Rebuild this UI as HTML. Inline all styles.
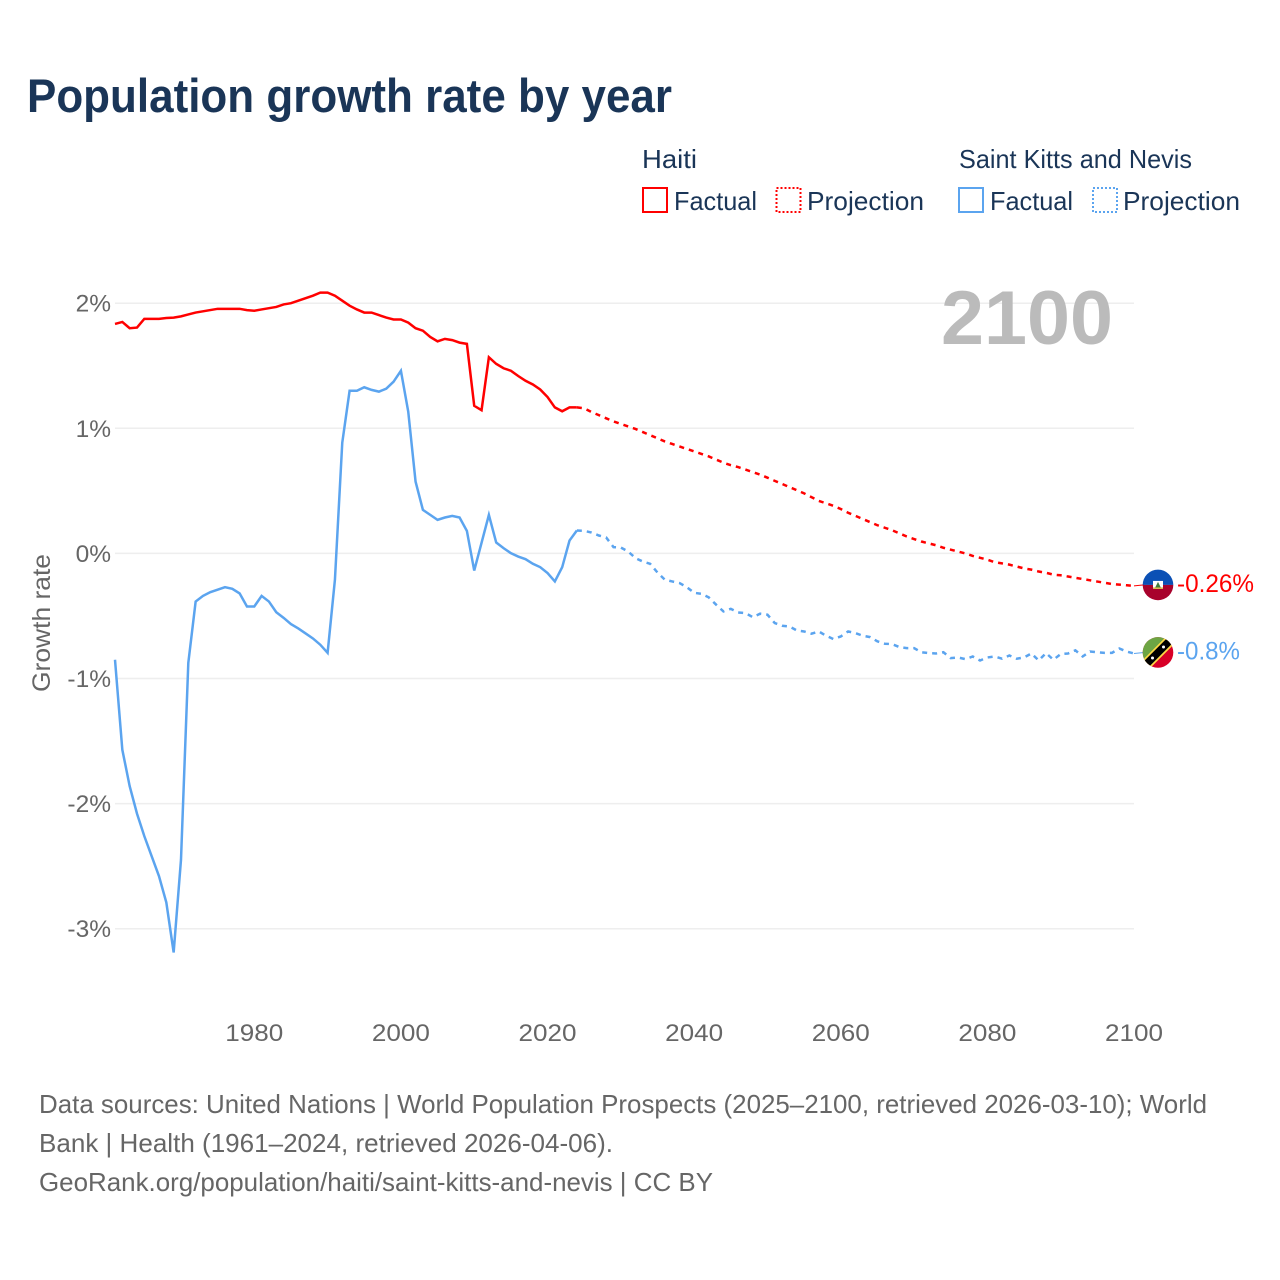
<!DOCTYPE html>
<html lang="en">
<head>
<meta charset="utf-8">
<title>Population growth rate by year</title>
<style>
  html, body { margin: 0; padding: 0; background: #fff; }
  svg { display: block; font-family: "Liberation Sans", sans-serif; }
  .legend-text { font-size: 26px; fill: #1a3557; }
  .footer-text { font-size: 26px; fill: #666; }
  .tick { font-size: 24.5px; fill: #666; }
</style>
</head>
<body>
<svg id="chart" xmlns="http://www.w3.org/2000/svg" width="1280" height="1280" viewBox="0 0 1280 1280">
  <defs>
    <clipPath id="flag-clip"><circle cx="0" cy="0" r="15.3"></circle></clipPath>
  </defs>

  <text x="27" y="112" font-size="47" font-weight="700" fill="#1a3557" textLength="645" lengthAdjust="spacingAndGlyphs">Population growth rate by year</text>

  <g>
    <text class="legend-text" x="642" y="168" textLength="55" lengthAdjust="spacingAndGlyphs">Haiti</text>
    <text class="legend-text" x="959" y="168" textLength="233" lengthAdjust="spacingAndGlyphs">Saint Kitts and Nevis</text>

    <rect x="643" y="188" width="24" height="24" fill="none" stroke="#ff0000" stroke-width="2"></rect>
    <text class="legend-text" x="674" y="210" textLength="83" lengthAdjust="spacingAndGlyphs">Factual</text>
    <rect x="776.5" y="188" width="24" height="24" fill="none" stroke="#ff0000" stroke-width="2" stroke-dasharray="2 2"></rect>
    <text class="legend-text" x="807" y="210" textLength="117" lengthAdjust="spacingAndGlyphs">Projection</text>

    <rect x="959" y="188" width="24" height="24" fill="none" stroke="#5ba4ef" stroke-width="2"></rect>
    <text class="legend-text" x="990" y="210" textLength="83" lengthAdjust="spacingAndGlyphs">Factual</text>
    <rect x="1093" y="188" width="24" height="24" fill="none" stroke="#5ba4ef" stroke-width="2" stroke-dasharray="2 2"></rect>
    <text class="legend-text" x="1123" y="210" textLength="117" lengthAdjust="spacingAndGlyphs">Projection</text>
  </g>

  <g id="grid"></g>
  <g id="yticks"></g>
  <g id="xticks"></g>

  <text transform="translate(50,692) rotate(-90)" x="0" y="0" font-size="25" fill="#666" textLength="138" lengthAdjust="spacingAndGlyphs">Growth rate</text>

  <text id="year-label" x="941" y="344" font-size="76" font-weight="700" fill="#bbbbbb" textLength="172" lengthAdjust="spacingAndGlyphs">2100</text>

  <g id="series"></g>

  <g id="flag-haiti">
    <g clip-path="url(#flag-clip)">
      <rect x="-16" y="-16" width="32" height="16" fill="#0b50b5"></rect>
      <rect x="-16" y="0" width="32" height="16" fill="#a8022c"></rect>
      <rect x="-5" y="-4" width="10" height="8" fill="#ffffff"></rect>
      <path d="M-3 3 L0 -3 L3 3 Z" fill="#3f7f3a"></path>
      <rect x="-5" y="2.5" width="10" height="1.5" fill="#d8b64a"></rect>
    </g>
  </g>
  <g id="flag-skn">
    <g clip-path="url(#flag-clip)">
      <rect x="-16" y="-16" width="32" height="32" fill="#d80027"></rect>
      <path d="M-16 -16 L16 -16 L-16 16 Z" fill="#6da544"></path>
      <path d="M-16 16 L16 -16" stroke="#ffda44" stroke-width="11"></path>
      <path d="M-16 16 L16 -16" stroke="#000000" stroke-width="7.5"></path>
      <circle cx="-5.5" cy="5.5" r="1.5" fill="#ffffff"></circle>
      <circle cx="5.5" cy="-5.5" r="1.5" fill="#ffffff"></circle>
    </g>
  </g>

  <text id="end-label-haiti" x="1177" font-size="25" fill="#ff0000" textLength="77" lengthAdjust="spacingAndGlyphs"></text>
  <text id="end-label-skn" x="1177" font-size="25" fill="#5ba4ef" textLength="63" lengthAdjust="spacingAndGlyphs"></text>

  <g>
    <text class="footer-text" x="39" y="1113" textLength="1168" lengthAdjust="spacingAndGlyphs">Data sources: United Nations | World Population Prospects (2025–2100, retrieved 2026-03-10); World</text>
    <text class="footer-text" x="39" y="1152" textLength="574" lengthAdjust="spacingAndGlyphs">Bank | Health (1961–2024, retrieved 2026-04-06).</text>
    <text class="footer-text" x="39" y="1191" textLength="674" lengthAdjust="spacingAndGlyphs">GeoRank.org/population/haiti/saint-kitts-and-nevis | CC BY</text>
  </g>
</svg>

<script>
const factualStartYear = 1961;
const projectionStartYear = 2024;
const yTickValues = [2, 1, 0, -1, -2, -3];
const yTickLabels = ["2%", "1%", "0%", "-1%", "-2%", "-3%"];
const xTickYears = [1980, 2000, 2020, 2040, 2060, 2080, 2100];
const endLabelHaiti = "-0.26%";
const endLabelSaintKitts = "-0.8%";

const haitiFactual = [1.834,1.85,1.80,1.805,1.875,1.875,1.875,1.882,1.885,1.895,1.91,1.925,1.935,1.945,1.955,1.955,1.955,1.955,1.945,1.94,1.95,1.96,1.97,1.99,2.00,2.02,2.04,2.06,2.085,2.085,2.06,2.02,1.98,1.95,1.925,1.925,1.905,1.885,1.87,1.87,1.845,1.80,1.78,1.73,1.695,1.715,1.705,1.685,1.675,1.18,1.145,1.568,1.515,1.48,1.46,1.418,1.38,1.35,1.31,1.25,1.167,1.136,1.167,1.167];
const haitiProjection = [1.167,1.16,1.13,1.105,1.08,1.055,1.035,1.015,0.995,0.97,0.945,0.92,0.895,0.875,0.855,0.835,0.815,0.795,0.775,0.75,0.725,0.705,0.69,0.67,0.65,0.63,0.605,0.58,0.555,0.53,0.505,0.48,0.45,0.42,0.40,0.38,0.355,0.325,0.30,0.275,0.25,0.225,0.205,0.185,0.16,0.135,0.115,0.095,0.08,0.065,0.045,0.03,0.015,0.0,-0.02,-0.035,-0.05,-0.07,-0.08,-0.09,-0.105,-0.12,-0.13,-0.145,-0.155,-0.17,-0.175,-0.185,-0.195,-0.205,-0.215,-0.225,-0.235,-0.245,-0.25,-0.255,-0.26];
const saintKittsFactual = [-0.85,-1.57,-1.86,-2.08,-2.26,-2.42,-2.58,-2.79,-3.19,-2.45,-0.875,-0.385,-0.34,-0.31,-0.29,-0.27,-0.283,-0.32,-0.424,-0.424,-0.34,-0.385,-0.47,-0.515,-0.565,-0.60,-0.64,-0.68,-0.73,-0.795,-0.21,0.885,1.30,1.30,1.328,1.307,1.293,1.317,1.373,1.46,1.133,0.574,0.348,0.308,0.268,0.287,0.30,0.287,0.18,-0.137,0.085,0.308,0.087,0.042,0.002,-0.025,-0.046,-0.083,-0.11,-0.157,-0.224,-0.11,0.103,0.183];
const saintKittsProjection = [0.183,0.18,0.167,0.143,0.127,0.05,0.047,0.015,-0.038,-0.065,-0.083,-0.153,-0.21,-0.224,-0.237,-0.27,-0.315,-0.323,-0.352,-0.41,-0.464,-0.443,-0.472,-0.477,-0.51,-0.482,-0.49,-0.557,-0.578,-0.584,-0.616,-0.624,-0.642,-0.624,-0.658,-0.685,-0.664,-0.624,-0.637,-0.658,-0.669,-0.703,-0.722,-0.725,-0.749,-0.757,-0.757,-0.79,-0.797,-0.80,-0.79,-0.837,-0.832,-0.845,-0.824,-0.856,-0.832,-0.824,-0.842,-0.816,-0.842,-0.832,-0.80,-0.856,-0.797,-0.85,-0.805,-0.80,-0.775,-0.824,-0.784,-0.79,-0.795,-0.795,-0.76,-0.785,-0.80];

const SVG_NS = "http://www.w3.org/2000/svg";
function xScale(year) { return 115 + (year - 1961) * 7.331; }
function yScale(value) { return 553.4 - value * 125.1; }
function pathFrom(values, startYear) {
  return values.map(function (v, i) {
    return (i ? "L" : "M") + xScale(startYear + i).toFixed(2) + " " + yScale(v).toFixed(2);
  }).join(" ");
}

const gridGroup = document.getElementById("grid");
const yTickGroup = document.getElementById("yticks");
yTickValues.forEach(function (v, i) {
  const line = document.createElementNS(SVG_NS, "line");
  
  
  line.setAttribute("x1", 115);
  line.setAttribute("x2", 1134);
  line.setAttribute("y1", yScale(v));
  line.setAttribute("y2", yScale(v));
  line.setAttribute("stroke", "#eeeeee");
  line.setAttribute("stroke-width", "1.5");
  gridGroup.appendChild(line);

  const label = document.createElementNS(SVG_NS, "text");
  
  
  label.setAttribute("class", "tick");
  label.setAttribute("x", 111);
  label.setAttribute("y", yScale(v) + 8.5);
  label.setAttribute("text-anchor", "end");
  label.textContent = yTickLabels[i];
  yTickGroup.appendChild(label);
});

const xTickGroup = document.getElementById("xticks");
xTickYears.forEach(function (year) {
  const label = document.createElementNS(SVG_NS, "text");
  
  
  label.setAttribute("class", "tick");
  label.setAttribute("x", xScale(year));
  label.setAttribute("y", 1041);
  label.setAttribute("text-anchor", "middle");
  label.setAttribute("textLength", "58");
  label.setAttribute("lengthAdjust", "spacingAndGlyphs");
  label.textContent = String(year);
  xTickGroup.appendChild(label);
});

const seriesGroup = document.getElementById("series");

const haitiFactualLine = document.createElementNS(SVG_NS, "path");


haitiFactualLine.setAttribute("d", pathFrom(haitiFactual, factualStartYear));
haitiFactualLine.setAttribute("fill", "none");
haitiFactualLine.setAttribute("stroke", "#ff0000");
haitiFactualLine.setAttribute("stroke-width", "2.5");
seriesGroup.appendChild(haitiFactualLine);

const haitiProjectionLine = document.createElementNS(SVG_NS, "path");


haitiProjectionLine.setAttribute("d", pathFrom(haitiProjection, projectionStartYear));
haitiProjectionLine.setAttribute("fill", "none");
haitiProjectionLine.setAttribute("stroke", "#ff0000");
haitiProjectionLine.setAttribute("stroke-width", "2.5");
haitiProjectionLine.setAttribute("stroke-dasharray", "5 5");
seriesGroup.appendChild(haitiProjectionLine);

const saintKittsFactualLine = document.createElementNS(SVG_NS, "path");


saintKittsFactualLine.setAttribute("d", pathFrom(saintKittsFactual, factualStartYear));
saintKittsFactualLine.setAttribute("fill", "none");
saintKittsFactualLine.setAttribute("stroke", "#5ba4ef");
saintKittsFactualLine.setAttribute("stroke-width", "2.5");
seriesGroup.appendChild(saintKittsFactualLine);

const saintKittsProjectionLine = document.createElementNS(SVG_NS, "path");


saintKittsProjectionLine.setAttribute("d", pathFrom(saintKittsProjection, projectionStartYear));
saintKittsProjectionLine.setAttribute("fill", "none");
saintKittsProjectionLine.setAttribute("stroke", "#5ba4ef");
saintKittsProjectionLine.setAttribute("stroke-width", "2.5");
saintKittsProjectionLine.setAttribute("stroke-dasharray", "5 5");
seriesGroup.appendChild(saintKittsProjectionLine);

const haitiEnd = yScale(haitiProjection[haitiProjection.length - 1]);
const saintKittsEnd = yScale(saintKittsProjection[saintKittsProjection.length - 1]);

const haitiConnector = document.createElementNS(SVG_NS, "line");


haitiConnector.setAttribute("x1", 1134);
haitiConnector.setAttribute("x2", 1144);
haitiConnector.setAttribute("y1", haitiEnd);
haitiConnector.setAttribute("y2", haitiEnd - 1);
haitiConnector.setAttribute("stroke", "#ff0000");
haitiConnector.setAttribute("stroke-width", "1");
seriesGroup.appendChild(haitiConnector);

const saintKittsConnector = document.createElementNS(SVG_NS, "line");


saintKittsConnector.setAttribute("x1", 1134);
saintKittsConnector.setAttribute("x2", 1144);
saintKittsConnector.setAttribute("y1", saintKittsEnd);
saintKittsConnector.setAttribute("y2", saintKittsEnd - 1);
saintKittsConnector.setAttribute("stroke", "#5ba4ef");
saintKittsConnector.setAttribute("stroke-width", "1");
seriesGroup.appendChild(saintKittsConnector);

document.getElementById("flag-haiti").setAttribute("transform", "translate(1158 " + (haitiEnd - 1) + ")");
document.getElementById("flag-skn").setAttribute("transform", "translate(1158 " + (saintKittsEnd - 1) + ")");

const haitiLabel = document.getElementById("end-label-haiti");
haitiLabel.setAttribute("y", haitiEnd + 6);
haitiLabel.textContent = endLabelHaiti;

const saintKittsLabel = document.getElementById("end-label-skn");
saintKittsLabel.setAttribute("y", saintKittsEnd + 6);
saintKittsLabel.textContent = endLabelSaintKitts;
</script>
</body>
</html>
